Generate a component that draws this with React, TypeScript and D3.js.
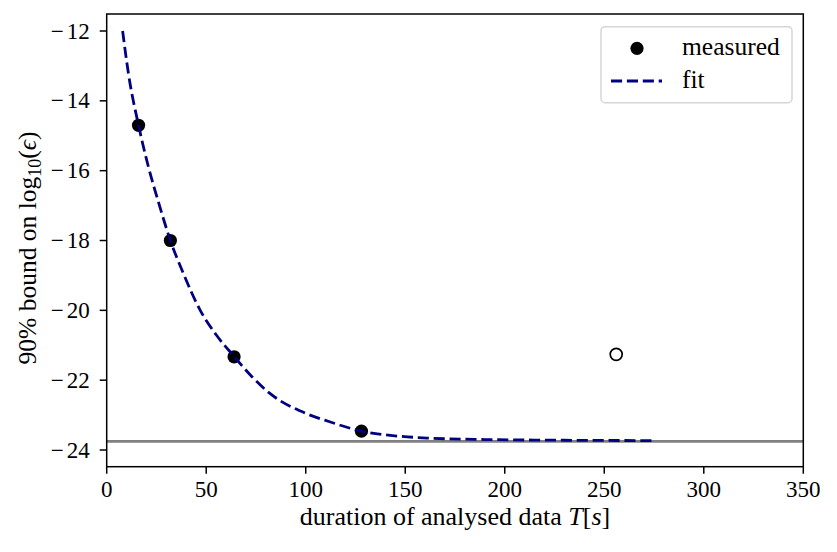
import React from "react";
import * as d3 from "d3";

// ---- data ----
const measuredT = [16, 32, 64, 128];
const measuredY = [-14.7, -18.0, -21.33, -23.46];
const outlierT = [256];
const outlierY = [-21.26];
const fitT = [8, 11, 16, 21, 26, 32, 38.5, 47, 55, 64, 73, 82, 100, 112, 128, 146, 162, 190, 230, 274];
const fitY = [-12.0, -13.25, -14.7, -15.9, -16.9, -18.0, -18.94, -20.0, -20.7, -21.32, -21.9, -22.38, -22.95, -23.19, -23.46, -23.6, -23.66, -23.7, -23.72, -23.73];
const boundY = -23.75;
const xTicks = [0, 50, 100, 150, 200, 250, 300, 350];
const yTicks = [-24, -22, -20, -18, -16, -14, -12];
const legendLabels = ["measured", "fit"];

const W = 837;
const H = 552;
const L = 106.7, R = 803.3, T = 14, B = 466.7;
const FONT = "'Liberation Serif', 'Times New Roman', serif";

export default function App() {
  const x = d3.scaleLinear().domain([0, 350]).range([L, R]);
  const y = d3.scaleLinear().domain([-24.478, -11.513]).range([B, T]);

  const fitPts: [number, number][] = fitT.map((t, i) => [t, fitY[i]]);
  const fitPath = d3
    .line<[number, number]>()
    .x((d) => x(d[0]))
    .y((d) => y(d[1]))
    .curve(d3.curveMonotoneX)(fitPts) as string;

  const navy = "#000080";
  const dash = "11.1 4.8";

  return (
    <svg
      width={W}
      height={H}
      viewBox={`0 0 ${W} ${H}`}
      style={{ position: "absolute", left: 0, top: 0, background: "#fff" }}
      fontFamily={FONT}
    >
      <rect x={0} y={0} width={W} height={H} fill="#fff" />
      <defs>
        <clipPath id="plotclip">
          <rect x={L} y={T} width={R - L} height={B - T} />
        </clipPath>
      </defs>

      <g clipPath="url(#plotclip)">
        {/* bound line */}
        <line x1={x(0)} x2={x(350)} y1={y(boundY)} y2={y(boundY)} stroke="#808080" strokeWidth={2.8} />
        {/* measured points */}
        {measuredT.map((t, i) => (
          <circle key={"m" + i} cx={x(t)} cy={y(measuredY[i])} r={6.6} fill="#000" />
        ))}
        {outlierT.map((t, i) => (
          <circle key={"o" + i} cx={x(t)} cy={y(outlierY[i])} r={6} fill="#fff" stroke="#000" strokeWidth={1.7} />
        ))}
        {/* fit */}
        <path d={fitPath} fill="none" stroke={navy} strokeWidth={2.8} strokeDasharray={dash} />
      </g>

      {/* spines */}
      <rect x={L} y={T} width={R - L} height={B - T} fill="none" stroke="#000" strokeWidth={1.5} />

      {/* x ticks */}
      {xTicks.map((t) => (
        <g key={"xt" + t}>
          <line x1={x(t)} x2={x(t)} y1={B} y2={B + 7} stroke="#000" strokeWidth={1.5} />
          <text x={x(t)} y={B + 30} textAnchor="middle" fontSize={23} fill="#000">
            {String(t)}
          </text>
        </g>
      ))}
      {/* y ticks */}
      {yTicks.map((t) => (
        <g key={"yt" + t}>
          <line x1={L - 7} x2={L} y1={y(t)} y2={y(t)} stroke="#000" strokeWidth={1.5} />
          <text x={L - 17} y={y(t) + 7.6} textAnchor="end" fontSize={23} fill="#000">
            <tspan dx={0}>{"\u2212"}</tspan>
            <tspan dx={3}>{String(Math.abs(t))}</tspan>
          </text>
        </g>
      ))}

      {/* x label */}
      <text x={(L + R) / 2} y={525} textAnchor="middle" fontSize={26} fill="#000">
        duration of analysed data <tspan fontStyle="italic">T</tspan>[<tspan fontStyle="italic">s</tspan>]
      </text>

      {/* y label */}
      <text
        transform={`translate(36, 248) rotate(-90)`}
        textAnchor="middle"
        fontSize={25.5}
        fill="#000"
      >
        90% bound on log<tspan fontSize={18} dy={5}>10</tspan>
        <tspan dy={-5}>(</tspan>
        <tspan fontStyle="italic">ϵ</tspan>)
      </text>

      {/* legend */}
      <rect x={601} y={26.7} width={191} height={76} rx={4} ry={4} fill="#fff" fillOpacity={0.8} stroke="#d6d6d6" strokeWidth={1.5} />
      <circle cx={637} cy={48.3} r={6.6} fill="#000" />
      <text x={682} y={55} fontSize={25.5} fill="#000">{legendLabels[0]}</text>
      <line x1={611} x2={662} y1={81} y2={81} stroke={navy} strokeWidth={2.8} strokeDasharray={dash} />
      <text x={682} y={88} fontSize={25.5} fill="#000">{legendLabels[1]}</text>
    </svg>
  );
}
